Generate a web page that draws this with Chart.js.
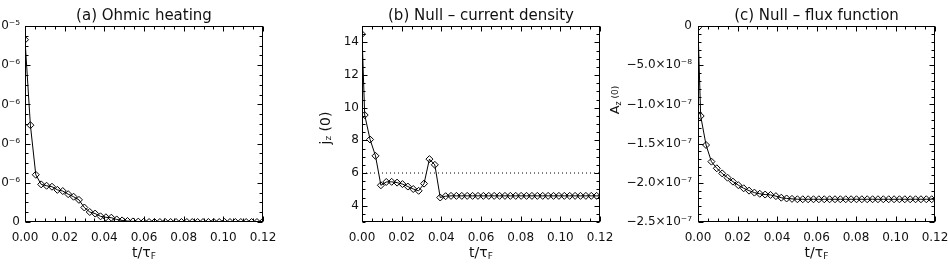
<!DOCTYPE html>
<html>
<head>
<meta charset="utf-8">
<script src="https://cdn.jsdelivr.net/npm/chart.js@4"></script>
<style>
  html, body { margin: 0; padding: 0; background: #fff; }
  body { position: relative; width: 948px; height: 268px; overflow: hidden; }
  canvas { position: absolute; top: 0; }
</style>
</head>
<body>
<canvas id="ohmicChart" width="380" height="268" style="left:-80px"></canvas>
<canvas id="currentChart" width="340" height="268" style="left:290px"></canvas>
<canvas id="fluxChart" width="370" height="268" style="left:590px"></canvas>
<script>
// time samples (t / tau_F); ohmic heating is stored on whole steps, null values on half steps
const timesOhmic = [0, 0.00272, 0.00544, 0.00816, 0.01088, 0.0136, 0.01632, 0.01904, 0.02176, 0.02448,
  0.0272, 0.02992, 0.03264, 0.03536, 0.03808, 0.0408, 0.04352, 0.04624, 0.04896, 0.05168,
  0.0544, 0.05712, 0.05984, 0.06256, 0.06528, 0.068, 0.07072, 0.07344, 0.07616, 0.07888,
  0.0816, 0.08432, 0.08704, 0.08976, 0.09248, 0.0952, 0.09792, 0.10064, 0.10336, 0.10608,
  0.1088, 0.11152, 0.11424, 0.11696, 0.11968];
const timesNull = [0, 0.00136, 0.00408, 0.0068, 0.00952, 0.01224, 0.01496, 0.01768, 0.0204, 0.02312,
  0.02584, 0.02856, 0.03128, 0.034, 0.03672, 0.03944, 0.04216, 0.04488, 0.0476, 0.05032,
  0.05304, 0.05576, 0.05848, 0.0612, 0.06392, 0.06664, 0.06936, 0.07208, 0.0748, 0.07752,
  0.08024, 0.08296, 0.08568, 0.0884, 0.09112, 0.09384, 0.09656, 0.09928, 0.102, 0.10472,
  0.10744, 0.11016, 0.11288, 0.1156, 0.11832, 0.12104];

// (a) ohmic heating, in units of 1e-6
const ohmicHeating = [9.3, 4.94, 2.41, 1.92, 1.85, 1.8, 1.64, 1.58, 1.42, 1.29,
  1.13, 0.74, 0.51, 0.43, 0.29, 0.24, 0.22, 0.13, 0.08, 0.05,
  0.03, 0.02, 0.01, 0, 0, 0, 0, 0, 0, 0,
  0, 0, 0, 0, 0, 0, 0, 0, 0, 0,
  0, 0, 0, 0, 0];
// (b) current density at the null
const nullCurrent = [14.5, 9.55, 8.05, 7.05, 5.25, 5.45, 5.46, 5.41, 5.32, 5.17,
  5.02, 4.91, 5.35, 6.85, 6.5, 4.5, 4.58, 4.6, 4.6, 4.6,
  4.6, 4.6, 4.6, 4.6, 4.6, 4.6, 4.6, 4.6, 4.6, 4.6,
  4.6, 4.6, 4.6, 4.6, 4.6, 4.6, 4.6, 4.6, 4.6, 4.6,
  4.6, 4.6, 4.6, 4.6, 4.6, 4.6];
const currentLevel = 6;
// (c) flux function at the null, in units of 1e-7
const nullFlux = [-0.02, -1.148, -1.518, -1.73, -1.815, -1.88, -1.935, -1.985, -2.03, -2.07,
  -2.1, -2.125, -2.14, -2.15, -2.155, -2.17, -2.19, -2.2, -2.205, -2.21,
  -2.21, -2.21, -2.21, -2.21, -2.21, -2.21, -2.21, -2.21, -2.21, -2.21,
  -2.21, -2.21, -2.21, -2.21, -2.21, -2.21, -2.21, -2.21, -2.21, -2.21,
  -2.21, -2.21, -2.21, -2.21, -2.21, -2.21];

// tick values and labels
const xTicks = [0, 0.02, 0.04, 0.06, 0.08, 0.1, 0.12];
const xTickLabels = ['0.00', '0.02', '0.04', '0.06', '0.08', '0.10', '0.12'];
const ohmicTicks = [0, 2e-6, 4e-6, 6e-6, 8e-6, 1e-5];
const ohmicTickLabels = ['0', '2.0×10⁻⁶', '4.0×10⁻⁶', '6.0×10⁻⁶', '8.0×10⁻⁶', '1.0×10⁻⁵'];
const currentTicks = [4, 6, 8, 10, 12, 14];
const currentTickLabels = ['4', '6', '8', '10', '12', '14'];
const fluxTicks = [-2.5e-7, -2e-7, -1.5e-7, -1e-7, -5e-8, 0];
const fluxTickLabels = ['−2.5×10⁻⁷', '−2.0×10⁻⁷', '−1.5×10⁻⁷', '−1.0×10⁻⁷', '−5.0×10⁻⁸', '0'];

const FONT = '"DejaVu Sans", sans-serif';
Chart.defaults.font.family = FONT;
Chart.defaults.font.size = 12;
Chart.defaults.color = '#111';

// draw text made of pieces [text, size, shift] (shift > 0 = subscript)
function drawPieces(ctx, pieces, cx, cy) {
  let w = 0;
  pieces.forEach(p => { ctx.font = p[1] + 'px ' + FONT; w += ctx.measureText(p[0]).width; });
  let x = cx - w / 2;
  pieces.forEach(p => {
    ctx.font = p[1] + 'px ' + FONT;
    ctx.fillText(p[0], x, cy + p[2]);
    x += ctx.measureText(p[0]).width;
  });
}

// IDL-like frame: box with inward major/minor ticks on all sides, plus axis titles
const idlFrame = {
  id: 'idlFrame',
  afterDraw(chart, args, o) {
    const {ctx, chartArea: a, scales: {x, y}} = chart;
    const L = Math.round(a.left) + 0.5, R = Math.round(a.right) - 0.5;
    const T = Math.round(a.top) + 0.5, B = Math.round(a.bottom) - 0.5;
    ctx.save();
    ctx.strokeStyle = '#000';
    ctx.lineWidth = 1;
    ctx.strokeRect(L, T, R - L, B - T);
    ctx.beginPath();
    const xMajor = x.ticks.map(t => t.value);
    const nx = Math.round((x.max - x.min) / o.xMinor);
    for (let i = 0; i <= nx; i++) {
      const v = x.min + i * o.xMinor;
      const len = xMajor.some(m => Math.abs(m - v) < o.xMinor / 10) ? 5 : 3;
      const px = Math.round(x.getPixelForValue(v)) + 0.5;
      ctx.moveTo(px, B); ctx.lineTo(px, B - len);
      ctx.moveTo(px, T); ctx.lineTo(px, T + len);
    }
    const yMajor = y.ticks.map(t => t.value);
    const ny = Math.round((y.max - y.min) / o.yMinor);
    for (let i = 0; i <= ny; i++) {
      const v = y.min + i * o.yMinor;
      const len = yMajor.some(m => Math.abs(m - v) < o.yMinor / 10) ? 5 : 3;
      const py = Math.round(y.getPixelForValue(v)) + 0.5;
      ctx.moveTo(L, py); ctx.lineTo(L + len, py);
      ctx.moveTo(R, py); ctx.lineTo(R - len, py);
    }
    ctx.stroke();

    ctx.fillStyle = '#111';
    ctx.textBaseline = 'middle';
    ctx.textAlign = 'left';
    drawPieces(ctx, [['t/τ', 14, 0], ['F', 9, 4]], (a.left + a.right) / 2, 253);
    if (o.yTitle) {
      ctx.translate(o.yTitleX, o.yTitleY);
      ctx.rotate(-Math.PI / 2);
      drawPieces(ctx, o.yTitle, 0, 0);
    }
    ctx.restore();
  }
};

function makePanel(id, cfg) {
  new Chart(document.getElementById(id), {
    type: 'line',
    data: { datasets: cfg.datasets },
    options: {
      responsive: false,
      animation: false,
      layout: { padding: { left: 0, right: cfg.padRight, top: 0, bottom: 0 } },
      plugins: {
        legend: { display: false },
        tooltip: { enabled: false },
        title: {
          display: true,
          text: cfg.title,
          fullSize: false,
          color: '#111',
          font: { size: 15, weight: 'normal' },
          padding: { top: 7, bottom: 1 }
        },
        idlFrame: { xMinor: 0.005, yMinor: cfg.yMinor, yTitle: cfg.yTitle, yTitleX: cfg.yTitleX, yTitleY: cfg.yTitleY }
      },
      scales: {
        x: {
          type: 'linear',
          min: 0,
          max: 0.12,
          grid: { display: false, drawTicks: false },
          border: { display: false },
          afterBuildTicks: s => { s.ticks = xTicks.map(v => ({ value: v })); },
          afterFit: s => { s.height = 46; },
          ticks: { autoSkip: false, maxRotation: 0, padding: 9, callback: (v, i) => xTickLabels[i] }
        },
        y: {
          type: 'linear',
          min: cfg.yMin,
          max: cfg.yMax,
          grid: { display: false, drawTicks: false },
          border: { display: false },
          afterBuildTicks: s => { s.ticks = cfg.yTicks.map(v => ({ value: v })); },
          afterFit: s => { s.width = cfg.yAxisWidth; },
          ticks: { autoSkip: false, padding: cfg.yPad, callback: (v, i) => cfg.yLabels[i] }
        }
      }
    },
    plugins: [idlFrame]
  });
}

function series(times, values, unit) {
  return {
    data: times.map((t, i) => ({ x: t, y: values[i] * unit })),
    borderColor: '#000',
    borderWidth: 1,
    pointStyle: 'rectRot',
    pointRadius: 3.5,
    pointBorderWidth: 1,
    pointBorderColor: '#000',
    pointBackgroundColor: 'rgba(0,0,0,0)',
    tension: 0
  };
}

makePanel('ohmicChart', {
  title: '(a) Ohmic heating',
  datasets: [series(timesOhmic, ohmicHeating, 1e-6)],
  yMin: 0, yMax: 1e-5, yTicks: ohmicTicks, yLabels: ohmicTickLabels, yMinor: 5e-7,
  yAxisWidth: 105, yPad: 5, padRight: 37
});

makePanel('currentChart', {
  title: '(b) Null – current density',
  datasets: [
    series(timesNull, nullCurrent, 1),
    {
      data: [{ x: 0, y: currentLevel }, { x: 0.12, y: currentLevel }],
      borderColor: '#000',
      borderWidth: 1,
      borderDash: [1, 3],
      pointRadius: 0
    }
  ],
  yMin: 3, yMax: 15, yTicks: currentTicks, yLabels: currentTickLabels, yMinor: 0.5,
  yAxisWidth: 72, yPad: 3, padRight: 30,
  yTitle: [['j', 14, 0], ['z', 9, 3], [' (0)', 14, 0]], yTitleX: 36, yTitleY: 128
});

makePanel('fluxChart', {
  title: '(c) Null – flux function',
  datasets: [series(timesNull, nullFlux, 1e-7)],
  yMin: -2.5e-7, yMax: 0, yTicks: fluxTicks, yLabels: fluxTickLabels, yMinor: 1e-8,
  yAxisWidth: 108, yPad: 6, padRight: 25,
  yTitle: [['A', 13, 0], ['z', 8, 3], [' (0)', 9, 0]], yTitleX: 26, yTitleY: 100
});
</script>
</body>
</html>
